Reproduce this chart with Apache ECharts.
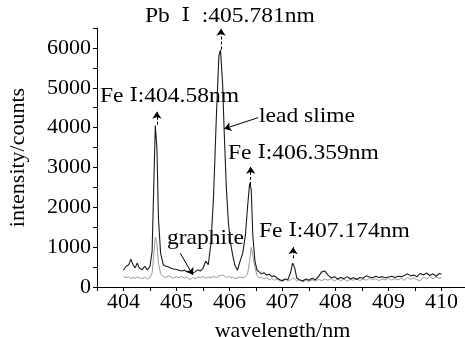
<!DOCTYPE html>
<html>
<head>
<meta charset="utf-8">
<script src="https://cdn.jsdelivr.net/npm/echarts@6/dist/echarts.min.js"></script>
<style>
    html, body { margin: 0; padding: 0; background: #fff; }
    #chart { width: 465px; height: 337px; }
</style>
</head>
<body>
<div id="chart"></div>
<script>
// wavelength (nm) sample points, shared by both spectra
var wavelength = [
    404.00, 404.05, 404.10, 404.14, 404.18, 404.22, 404.26, 404.30, 404.35, 404.40,
    404.45, 404.50, 404.54, 404.57, 404.60, 404.63, 404.66, 404.70, 404.75, 404.80,
    404.85, 404.90, 404.95, 405.00, 405.05, 405.10, 405.15, 405.20, 405.25, 405.30,
    405.35, 405.40, 405.45, 405.50, 405.55, 405.60, 405.65, 405.70, 405.75, 405.80,
    405.83, 405.87, 405.90, 405.94, 405.98, 406.02, 406.06, 406.10, 406.15, 406.20,
    406.25, 406.30, 406.34, 406.38, 406.41, 406.44, 406.48, 406.52, 406.56, 406.60,
    406.65, 406.70, 406.75, 406.80, 406.85, 406.90, 406.95, 407.00, 407.05, 407.10,
    407.15, 407.19, 407.23, 407.27, 407.32, 407.38, 407.44, 407.50, 407.56, 407.62,
    407.68, 407.74, 407.80, 407.86, 407.92, 407.98, 408.04, 408.10, 408.16, 408.22,
    408.28, 408.34, 408.40, 408.46, 408.52, 408.58, 408.64, 408.70, 408.76, 408.82,
    408.88, 408.94, 409.00, 409.06, 409.12, 409.18, 409.24, 409.30, 409.36, 409.42,
    409.48, 409.54, 409.60, 409.66, 409.72, 409.78, 409.84, 409.90, 409.96, 410.00
];
// lead slime intensity (counts)
var leadSlime = [
    420, 520, 560, 700, 560, 480, 600, 470, 430, 520,
    430, 520, 900, 2500, 4050, 3500, 1700, 850, 560, 520,
    500, 470, 450, 440, 420, 400, 420, 380, 390, 340,
    380, 430, 400, 470, 650, 560, 1100, 2300, 4200, 5800,
    5950, 5100, 3900, 2500, 1600, 1100, 800, 550, 420, 650,
    850, 1300, 2000, 2600, 2450, 1300, 650, 420, 380, 330,
    360, 300, 320, 260, 280, 220, 180, 150, 200, 180,
    350, 600, 480, 220, 180, 150, 200, 170, 220, 180,
    260, 380, 400, 300, 230, 260, 200, 240, 210, 260,
    200, 230, 190, 240, 220, 280, 250, 230, 270, 240,
    260, 230, 250, 270, 240, 270, 260, 290, 330, 280,
    300, 260, 340, 300, 350, 290, 330, 270, 340, 320
];
// graphite intensity (counts)
var graphite = [
    270, 230, 260, 210, 240, 220, 250, 230, 210, 250,
    200, 240, 350, 800, 1250, 1100, 600, 330, 260, 240,
    280, 250, 220, 260, 230, 270, 220, 250, 180, 240,
    210, 250, 230, 270, 220, 250, 230, 270, 240, 280,
    260, 300, 260, 240, 270, 230, 250, 210, 230, 250,
    230, 260, 320, 650, 1000, 950, 500, 280, 230, 250,
    200, 230, 180, 210, 170, 200, 150, 180, 200, 150,
    180, 230, 200, 150, 180, 130, 170, 140, 180, 150,
    190, 160, 200, 170, 210, 150, 200, 160, 200, 150,
    190, 170, 210, 160, 200, 170, 220, 180, 210, 160,
    200, 180, 220, 170, 210, 180, 220, 170, 240, 190,
    230, 180, 150, 250, 200, 260, 210, 250, 220, 240
];
// peak markers: [wavelength, peak top, arrow tip]
var peakArrows = [
    [404.63, 4070, 4400],
    [405.84, 5960, 6480],
    [406.40, 2560, 3020],
    [407.20, 720, 1000]
];

var font = '"Liberation Serif", "Times New Roman", serif';

function pairs(ys) {
    var out = [];
    for (var i = 0; i < wavelength.length; i++) {
        out.push([wavelength[i], ys[i]]);
    }
    return out;
}

var arrowLines = peakArrows.map(function (p) {
    return [{ coord: [p[0], p[1]] }, { coord: [p[0], p[2]] }];
});
// pointer arrows for the series names
arrowLines.push([
    { coord: [406.54, 4250], lineStyle: { type: 'solid' } },
    { coord: [405.90, 3970] }
]);
arrowLines.push([
    { coord: [405.07, 850], lineStyle: { type: 'solid' } },
    { coord: [405.31, 300] }
]);

// the roman numeral is drawn in DejaVu Serif, Liberation has no glyph for it
function label(text, x, y) {
    return {
        type: 'text',
        left: x,
        top: y,
        scaleX: 1.12,
        style: {
            text: text,
            fill: '#000',
            fontFamily: font,
            fontSize: 21,
            rich: {
                r: { fontFamily: 'DejaVu Serif', fontSize: 19, fill: '#000' }
            }
        }
    };
}

var chart = echarts.init(document.getElementById('chart'));

var option = {
    animation: false,
    backgroundColor: '#fff',
    grid: { left: 97, right: -3, top: 28, bottom: 50, outerBoundsMode: 'none', containLabel: false },
    xAxis: {
        type: 'value',
        min: 403.5,
        max: 410.5,
        interval: 0.5,
        name: 'wavelength/nm',
        nameLocation: 'middle',
        nameGap: 33,
        nameTextStyle: { fontFamily: font, fontSize: 22, color: '#000' },
        axisLine: { lineStyle: { color: '#000', width: 1 } },
        axisTick: { inside: false, length: 4, lineStyle: { color: '#000' } },
        axisLabel: {
            fontFamily: font,
            fontSize: 22,
            color: '#000',
            margin: 4,
            formatter: function (v) {
                return Math.abs(v - Math.round(v)) < 1e-6 ? String(Math.round(v)) : '';
            }
        },
        splitLine: { show: false }
    },
    yAxis: {
        type: 'value',
        min: 0,
        max: 6500,
        interval: 500,
        name: 'intensity/counts',
        nameLocation: 'middle',
        nameGap: 68,
        nameTextStyle: { fontFamily: font, fontSize: 22, color: '#000' },
        axisLine: { show: true, lineStyle: { color: '#000', width: 1 } },
        axisTick: { show: true, length: 4, lineStyle: { color: '#000' } },
        axisLabel: {
            fontFamily: font,
            fontSize: 22,
            color: '#000',
            margin: 6,
            formatter: function (v) {
                return v % 1000 === 0 ? String(v) : '';
            }
        },
        splitLine: { show: false }
    },
    series: [
        {
            name: 'graphite',
            type: 'line',
            data: pairs(graphite),
            showSymbol: false,
            lineStyle: { color: '#9a9a9a', width: 1 }
        },
        {
            name: 'lead slime',
            type: 'line',
            data: pairs(leadSlime),
            showSymbol: false,
            lineStyle: { color: '#1a1a1a', width: 1.1 },
            markLine: {
                silent: true,
                symbol: ['none', 'arrow'],
                symbolSize: 7,
                label: { show: false },
                lineStyle: { color: '#000', width: 1, type: [3, 2] },
                data: arrowLines
            }
        }
    ],
    graphic: [
        label('Pb  {r|\u2160}  :405.781nm', 145, 6),
        label('Fe {r|\u2160}:404.58nm', 100, 86),
        label('lead slime', 259, 106),
        label('Fe {r|\u2160}:406.359nm', 228, 143),
        label('graphite', 167, 228),
        label('Fe {r|\u2160}:407.174nm', 259, 221)
    ]
};

chart.setOption(option);
</script>
</body>
</html>
